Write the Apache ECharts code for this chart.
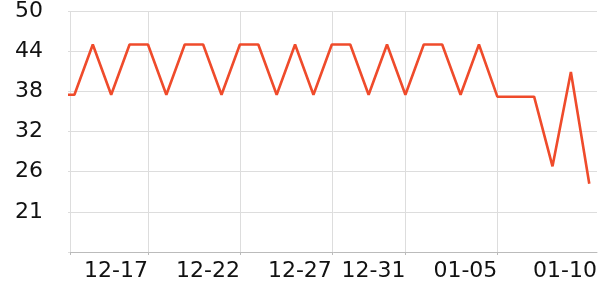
<!DOCTYPE html>
<html>
<head>
<meta charset="utf-8">
<script src="https://cdn.jsdelivr.net/npm/echarts@6/dist/echarts.min.js"></script>
<style>html,body{margin:0;padding:0;background:#fff}#c{width:600px;height:300px}</style>
</head>
<body>
<div id="c"></div>
<script>
// Daily categories (12-12 .. 01-10)
const dates = ['12-12','12-13','12-14','12-15','12-16','12-17','12-18','12-19','12-20','12-21',
  '12-22','12-23','12-24','12-25','12-26','12-27','12-28','12-29','12-30','12-31',
  '01-01','01-02','01-03','01-04','01-05','01-06','01-07','01-08','01-09','01-10'];
const values = [37.5,37.5,45,37.5,45,45,37.5,45,45,37.5,
  45,45,37.5,45,37.5,45,45,37.5,45,37.5,
  45,45,37.5,45,37.2,37.2,37.2,26.8,40.9,24.2];
const xTickDates = ['12-17','12-22','12-27','12-31','01-05'];
const xLastLabel = '01-10';
const yTickLabels = ['', '21', '26', '32', '38', '44', '50'];

const xMin = 0.76, xMax = 29.42;
const tickIdx = xTickDates.map(d => dates.indexOf(d));
const labelIdx = tickIdx.concat([xMax]);

const chart = echarts.init(document.getElementById('c'), null, {renderer: 'canvas'});
chart.setOption({
  animation: false,
  grid: {left: 70, right: 0, top: 10, bottom: 48},
  xAxis: {
    type: 'value', min: xMin, max: xMax,
    axisLine: {show: true, lineStyle: {color: '#bbbbbb', width: 1}},
    axisTick: {show: true, length: 3, customValues: [xMin].concat(tickIdx), lineStyle: {color: '#bbbbbb'}},
    splitLine: {show: true, lineStyle: {color: '#dddddd', width: 1}},
    axisLabel: {
      customValues: labelIdx, align: 'right', margin: 8,
      fontFamily: 'DejaVu Sans', fontSize: 22, color: '#111',
      formatter: v => (v === xMax ? xLastLabel : dates[Math.round(v)])
    }
  },
  yAxis: {
    type: 'value', min: 14, max: 50, interval: 6,
    axisLine: {show: false},
    axisTick: {show: true, length: 2, lineStyle: {color: '#dddddd'}},
    splitLine: {show: true, lineStyle: {color: '#dddddd', width: 1}},
    axisLabel: {
      margin: 27, fontFamily: 'DejaVu Sans', fontSize: 22, color: '#111',
      formatter: (v, i) => yTickLabels[i] || ''
    }
  },
  series: [{
    type: 'line',
    data: values.map((v, i) => [i, v]),
    showSymbol: false, symbol: 'none', clip: true,
    lineStyle: {color: '#ef4b2b', width: 2.6},
    itemStyle: {color: '#ef4b2b'}
  }]
});
</script>
</body>
</html>
